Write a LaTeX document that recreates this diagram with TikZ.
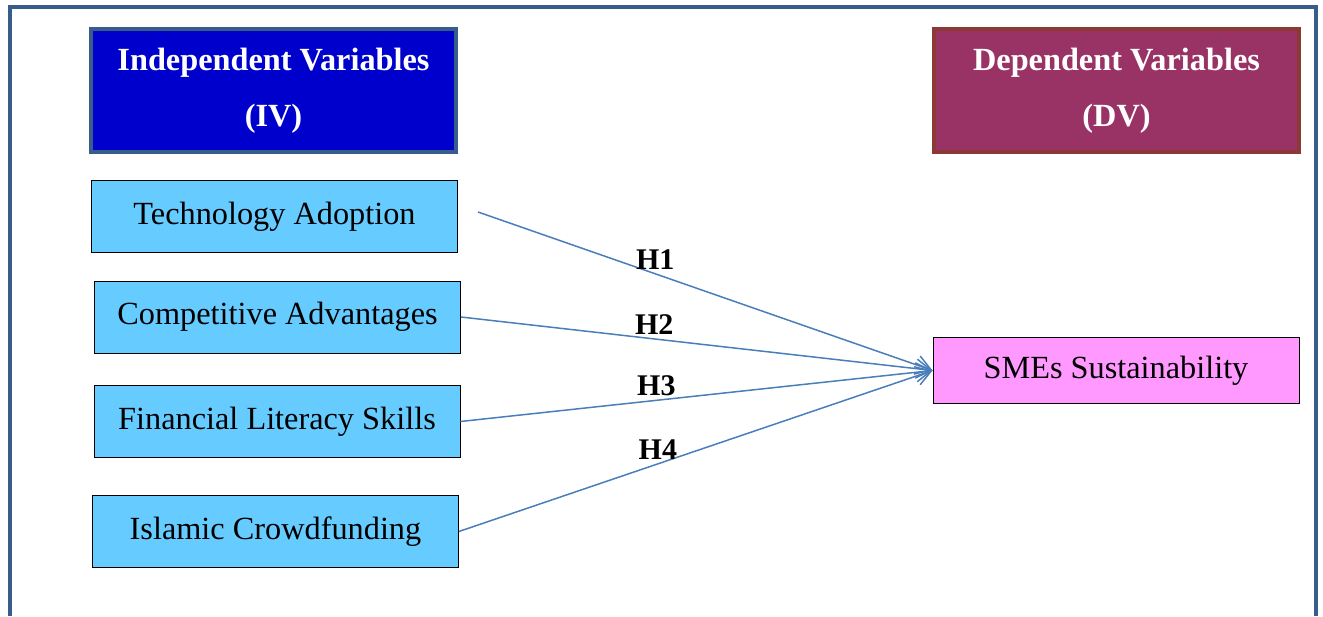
\documentclass[tikz,border=0pt]{standalone}
\usepackage{fontspec}
\setmainfont{Liberation Serif}
\usetikzlibrary{arrows.meta,positioning}

\definecolor{ivblue}{HTML}{0000CC}
\definecolor{ivframe}{HTML}{385D8A}
\definecolor{dvplum}{HTML}{993366}
\definecolor{dvframe}{HTML}{8C3836}
\definecolor{varblue}{HTML}{66CCFF}
\definecolor{smepink}{HTML}{FF99FF}
\definecolor{linkblue}{HTML}{4A7EBB}

\tikzset{
  head/.style={draw, line width=4.5pt, text=white, font=\fontsize{32.3}{56}\selectfont\bfseries,
    align=center, minimum width=365pt, minimum height=123pt},
  var/.style={draw=black, line width=0.8pt, font=\fontsize{32.3}{36}\selectfont,
    minimum width=366pt, minimum height=72pt},
  hyp/.style={font=\fontsize{30}{36}\selectfont\bfseries, text=black}
}

\begin{document}
\begin{tikzpicture}[x=1pt,y=1pt,-{Straight Barb[length=15pt,width=19pt]},
  line width=1.5pt,draw=linkblue]

\useasboundingbox (0,0) rectangle (1323,616);

% outer frame, open at the bottom
\draw[-, ivframe, line width=4pt] (10,0) -- (10,608.5) -- (1315.5,608.5) -- (1315.5,0);

\node[head,fill=ivblue,draw=ivframe] (iv) at (273.5,525.5) {Independent Variables\\(IV)};
\node[head,fill=dvplum,draw=dvframe] (dv) at (1116.5,525.5) {Dependent Variables\\(DV)};

\node[var,fill=varblue] (tech) at (274.5,399.5) {Technology Adoption};
\node[var,fill=varblue] (comp) at (277.5,299) {Competitive Advantages};
\node[var,fill=varblue] (fin) at (277,194.5) {Financial Literacy Skills};
\node[var,fill=varblue] (crowd) at (275.5,84.5) {Islamic Crowdfunding};

\node[var,fill=smepink,minimum height=66pt] (sme) at (1116,245.5) {SMEs Sustainability};

\coordinate (tech_out) at (478,404);

\path (tech_out) edge node[hyp,pos=0.39,above] {H1} (sme.west)
  (comp.east) edge node[hyp,pos=0.41,above] {H2} (sme.west)
  (fin.east)  edge node[hyp,pos=0.415,above] {H3} (sme.west)
  (crowd.east) edge node[hyp,pos=0.42,above] {H4} (sme.west);

\end{tikzpicture}
\end{document}
